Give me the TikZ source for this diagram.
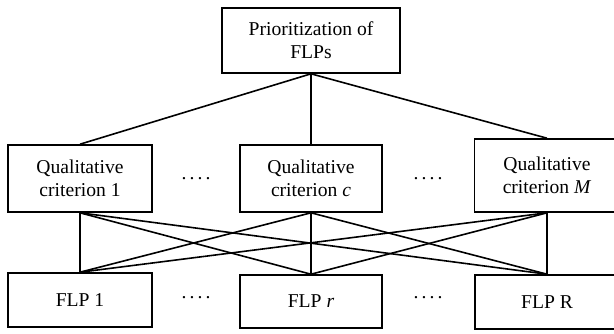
\documentclass[tikz,border=0pt]{standalone}
\usepackage{fontspec}
\setmainfont{Liberation Serif}
\begin{document}
\begin{tikzpicture}[x=0.5pt,y=-0.5pt,
  box/.style={draw, line width=0.8pt, inner sep=0pt, align=center,
    font=\fontsize{9.8}{11.6}\selectfont},
  conn/.style={line width=0.8pt},
  dotsnode/.style={inner sep=0pt, font=\fontsize{9.8}{11.6}\selectfont}]
\useasboundingbox (0,0) rectangle (614,333);
\clip (0,0) rectangle (614,333);
% top
\node[box, minimum width=89pt, minimum height=32.5pt] (top) at (311,40.5) {Prioritization of\\FLPs};
% criteria
\node[box, minimum width=72pt, minimum height=33.5pt] (c1) at (80,178.5) {Qualitative\\criterion 1};
\node[box, minimum width=71pt, minimum height=33.5pt] (cc) at (311,178.5) {Qualitative\\criterion \textit{c}};
\node[box, minimum width=72.5pt, minimum height=36.5pt] (cM) at (547,175.5) {Qualitative\\criterion \textit{M}};
% FLPs
\node[box, minimum width=72pt, minimum height=27pt] (f1) at (80,300) {FLP 1};
\node[box, minimum width=71pt, minimum height=26.5pt] (fr) at (311,301.5) {FLP \textit{r}};
\node[box, minimum width=72pt, minimum height=27pt] (fR) at (547,302) {FLP R};
% dots
\node[dotsnode] (d1) at (196,179) {.\kern1.55pt.\kern1.55pt.\kern1.55pt.};
\node[dotsnode] (d2) at (428,179) {.\kern1.55pt.\kern1.55pt.\kern1.55pt.};
\node[dotsnode] (d3) at (196,298) {.\kern1.55pt.\kern1.55pt.\kern1.55pt.};
\node[dotsnode] (d4) at (428,298) {.\kern1.55pt.\kern1.55pt.\kern1.55pt.};
% connectors
\foreach \c in {c1,cc,cM} \draw[conn] (top.south) -- (\c.north);
\foreach \c in {c1,cc,cM} \foreach \f in {f1,fr,fR} \draw[conn] (\c.south) -- (\f.north);
\end{tikzpicture}
\end{document}
